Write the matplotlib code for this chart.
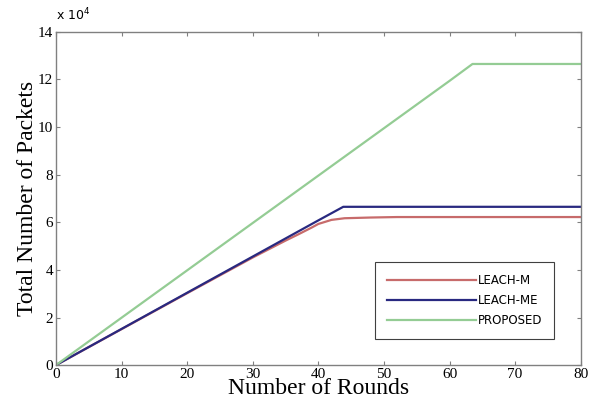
import numpy as np
import matplotlib
matplotlib.use("Agg")
from matplotlib import pyplot as plt
from matplotlib.ticker import FuncFormatter

# values (packets)
rounds_m = [0, 10, 20, 30, 35, 37, 39, 40, 42, 44, 48, 52, 80]
leach_m = [0, 15100, 30200, 45200, 52300, 55000, 57800, 59300, 61000, 61700, 62000, 62200, 62200]

rounds_me = [0, 10, 20, 30, 40, 43.8, 50, 80]
leach_me = [0, 15200, 30400, 45600, 60800, 66500, 66500, 66500]

rounds_p = [0, 10, 20, 30, 40, 50, 60, 63.5, 70, 80]
proposed = [0, 19900, 39800, 59700, 79600, 99500, 119400, 126500, 126500, 126500]

xticks = [0, 10, 20, 30, 40, 50, 60, 70, 80]
yticks = [0, 20000, 40000, 60000, 80000, 100000, 120000, 140000]

RED = (0.78, 0.42, 0.42)
BLUE = (0.16, 0.16, 0.50)
GREEN = (0.58, 0.80, 0.58)

fig = plt.figure(figsize=(5.95, 4.03), dpi=100)
ax = fig.add_axes([0.094, 0.094, 0.882, 0.827])

ax.plot(rounds_m, leach_m, color=RED, lw=1.6, label="LEACH-M")
ax.plot(rounds_me, leach_me, color=BLUE, lw=1.6, label="LEACH-ME")
ax.plot(rounds_p, proposed, color=GREEN, lw=1.6, label="PROPOSED")

ax.set_xlim(0, 80)
ax.set_ylim(0, 140000)
ax.set_xticks(xticks)
ax.set_yticks(yticks)
ax.yaxis.set_major_formatter(FuncFormatter(lambda v, p: "%d" % round(v / 1e4)))

serif = ["Liberation Serif", "DejaVu Serif"]
for lab in ax.get_xticklabels() + ax.get_yticklabels():
    lab.set_family(serif)
    lab.set_fontsize(11)

ax.tick_params(direction="in", top=True, right=True, length=3, width=0.8,
               color="#808080", pad=2)
for s in ax.spines.values():
    s.set_color("#808080")
    s.set_linewidth(1.0)

ax.text(0.0, 1.025, r"x 10$^4$", transform=ax.transAxes, fontsize=9,
        family="DejaVu Sans", ha="left", va="bottom")

ax.set_xlabel("Number of Rounds", family=serif, fontsize=17, labelpad=-2)
ax.set_ylabel("Total Number of Packets", family=serif, fontsize=17, labelpad=0)

leg = ax.legend(loc="lower right", bbox_to_anchor=(0.95, 0.078), fontsize=8.5,
                fancybox=False, framealpha=1, edgecolor="#404040",
                handlelength=7.5, borderpad=1.0, labelspacing=0.6,
                handletextpad=0.2, borderaxespad=0)
leg.get_frame().set_linewidth(0.8)

fig.savefig("out.png", dpi=100)
